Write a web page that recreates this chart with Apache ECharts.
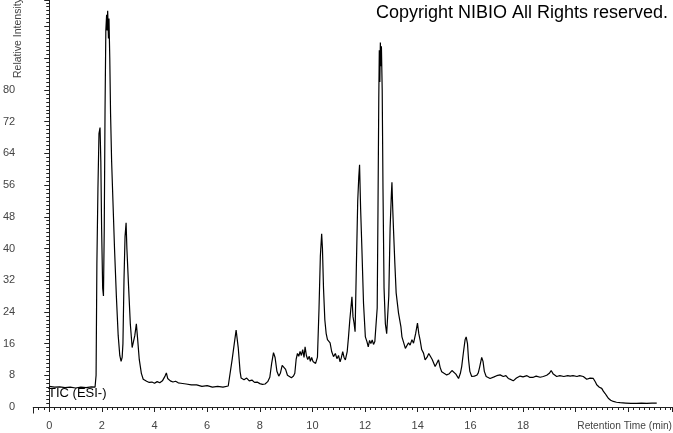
<!DOCTYPE html>
<html>
<head>
<meta charset="utf-8">
<script src="https://cdn.jsdelivr.net/npm/echarts@6/dist/echarts.min.js"></script>
<style>
html,body{margin:0;padding:0;background:#fff;}
#chart{width:673px;height:433px;}
</style>
</head>
<body>
<div id="chart"></div>
<script>
// Retention time (min)
const times = [
0,0.2,0.4,0.6,0.8,1.0,1.2,1.4,1.6,1.74,1.78,1.81,1.85,1.89,1.93,1.96,1.99,2.03,2.06,2.09,
2.12,2.15,2.18,2.20,2.22,2.25,2.27,2.30,2.33,2.37,2.42,2.48,2.55,2.62,2.68,2.73,2.77,2.80,2.84,2.88,
2.92,2.95,3.01,3.08,3.15,3.20,3.25,3.31,3.36,3.42,3.50,3.57,3.7,3.8,3.9,4.0,4.1,4.2,4.3,4.4,
4.45,4.5,4.6,4.7,4.8,4.9,5.0,5.2,5.4,5.6,5.8,6.0,6.2,6.4,6.6,6.8,6.87,6.95,7.03,7.10,
7.18,7.25,7.29,7.4,7.5,7.6,7.7,7.8,7.9,8.0,8.1,8.2,8.3,8.38,8.45,8.52,8.58,8.65,8.72,8.78,
8.85,8.92,8.98,9.05,9.12,9.2,9.28,9.33,9.38,9.43,9.48,9.53,9.58,9.63,9.68,9.72,9.77,9.82,9.88,9.92,
9.97,10.02,10.07,10.12,10.19,10.25,10.30,10.35,10.38,10.42,10.47,10.52,10.57,10.62,10.67,10.73,10.80,10.87,10.93,10.99,
11.05,11.10,11.15,11.20,11.25,11.32,11.37,11.42,11.50,11.54,11.58,11.62,11.67,11.72,11.76,11.79,11.83,11.88,11.94,12.01,
12.07,12.12,12.17,12.22,12.27,12.32,12.37,12.42,12.46,12.49,12.52,12.54,12.56,12.58,12.60,12.62,12.65,12.68,12.72,12.77,
12.82,12.86,12.90,12.95,13.00,13.02,13.05,13.08,13.13,13.18,13.27,13.36,13.40,13.46,13.53,13.59,13.65,13.71,13.78,13.84,
13.92,13.99,14.04,14.09,14.15,14.22,14.28,14.35,14.42,14.47,14.55,14.66,14.72,14.79,14.85,14.91,15.00,15.10,15.20,15.30,
15.36,15.45,15.55,15.62,15.67,15.74,15.80,15.84,15.89,15.93,15.98,16.05,16.15,16.24,16.30,16.35,16.43,16.48,16.53,16.60,
16.75,16.90,17.00,17.13,17.25,17.35,17.44,17.55,17.63,17.75,17.89,18.0,18.15,18.25,18.39,18.5,18.65,18.77,18.9,19.0,
19.07,19.15,19.28,19.4,19.55,19.7,19.79,19.9,20.05,20.15,20.29,20.42,20.55,20.67,20.75,20.80,20.90,20.99,21.05,21.12,
21.18,21.24,21.33,21.43,21.55,21.69,21.9,22.1,22.32,22.5,22.7,22.9,23.08
];
// Relative intensity
const intensity = [
5.2,5.0,5.1,4.9,5.0,4.8,5.0,4.9,5.1,5.0,8,36,55,69,70.5,62,45,30,28,45,
75,95,99,95,100,93,98,88,74,62,52,40,28,18,13,11.5,12.5,16,32,43,
46.5,40,31,21,15,14.5,18,21,17,12,8.5,7,6.5,6.2,6.3,6.0,6.4,6.1,6.6,7.8,
8.6,7.2,6.6,6.3,6.5,6.1,6.0,5.8,5.6,5.6,5.2,5.4,5.0,5.2,5.0,5.3,5.1,12,16,19.4,
15,9,7.3,6.9,7.3,6.6,6.8,6.2,6.3,5.9,5.7,5.8,6.4,7.5,11,13.7,12.5,9,7.8,8.5,
10.5,11,9.5,8,7.6,7.4,7.8,8.5,12,13.5,12.8,14,13,14.5,12.5,15.2,13,12,12.8,11.5,
12.5,11.5,12,11,12.6,25,38,43.7,40,30,22,18.6,17,17.5,16.2,14,12.7,13.5,12.2,13,
11.4,12.5,14,12.5,11.9,14,17.7,22,27.8,22.8,21.2,19,36,52,58,61.1,50,39.6,26.2,17.7,
16.5,15.2,16.8,16,16.9,15.8,16.5,16.2,25,50,78,90,82,92,86,91,80,55,30,21,
18.5,18.2,28,45,54,56.7,50,44.7,36.3,28.8,23.7,20.3,17.7,17.4,14.8,14.4,16.2,15.6,17,16.1,
18.5,21.2,18.5,16.9,14.5,13.6,11.9,12.5,13.5,14,12,10.2,11,11.9,10,8.9,8.5,8.1,8.4,9.2,
9.5,8.3,7.2,8.5,10.2,14,17,17.7,16,12,9,7.7,7.8,8,8.6,10,12.5,11.5,9,7.7,
7.2,7.6,7.9,8.1,7.7,7.9,7.2,6.9,6.6,7.3,7.8,7.6,7.9,7.5,7.5,7.8,7.5,7.7,8.0,8.5,
9.2,8.3,7.7,7.9,7.7,7.9,7.8,7.9,7.7,7.9,7.7,7.0,7.3,7.2,6.3,5.6,5.0,4.7,4.0,3.4,
2.8,2.2,1.7,1.4,1.2,1.1,1.0,0.9,0.9,1.0,0.9,1.0,1.0
];
const xTickLabels = [0,2,4,6,8,10,12,14,16,18];
const yTickLabels = [0,8,16,24,32,40,48,56,64,72,80];

const seriesData = times.map((t, i) => [t, intensity[i]]);
const FONT = '"Liberation Sans", Arial, sans-serif';

const chart = echarts.init(document.getElementById('chart'), null, {renderer: 'canvas'});
chart.setOption({
  animation: false,
  backgroundColor: '#ffffff',
  grid: {left: 33, right: 1, top: 0, bottom: 26, containLabel: false},
  xAxis: {
    type: 'value',
    min: -0.608,
    max: 23.66,
    splitNumber: 12,
    offset: 6,
    axisLine: {show: true, lineStyle: {color: '#222', width: 1}},
    axisTick: {show: true, length: 5, lineStyle: {color: '#222'}},
    minorTick: {show: true, splitNumber: 10, length: 3, lineStyle: {color: '#222'}},
    splitLine: {show: false},
    axisLabel: {
      show: true, margin: 7, color: '#444', fontSize: 11, fontFamily: FONT,
      showMinLabel: false, showMaxLabel: false,
      formatter: v => xTickLabels.indexOf(v) >= 0 ? String(v) : ''
    }
  },
  yAxis: {
    type: 'value',
    min: 0,
    max: 102.7,
    interval: 8,
    axisLine: {show: true, lineStyle: {color: '#222', width: 1}},
    axisTick: {show: true, length: 5, lineStyle: {color: '#222'}},
    minorTick: {show: true, splitNumber: 8, length: 3, lineStyle: {color: '#222'}},
    splitLine: {show: false},
    axisLabel: {
      show: true, margin: 18, color: '#444', fontSize: 11, fontFamily: FONT,
      showMaxLabel: false,
      formatter: v => yTickLabels.indexOf(v) >= 0 ? String(v) : ''
    }
  },
  series: [{
    type: 'line',
    data: seriesData,
    showSymbol: false,
    symbol: 'none',
    lineStyle: {color: '#000', width: 1.2},
    z: 3
  }],
  graphic: [
    {type: 'line', shape: {x1: 33.5, y1: 407, x2: 33.5, y2: 413.5}, style: {stroke: '#222', lineWidth: 1}},
    {type: 'text', left: 376, top: 4, style: {text: 'Copyright NIBIO All Rights reserved.', fill: '#000', font: '18px ' + FONT}},
    {type: 'text', x: 48, y: 393, style: {text: 'TIC (ESI-)', fill: '#000', font: '13px ' + FONT, verticalAlign: 'middle', align: 'left'}, z: 10},
    {type: 'text', x: 672, y: 426, style: {text: 'Retention Time (min)', fill: '#444', font: '10.2px ' + FONT, verticalAlign: 'middle', align: 'right'}},
    {type: 'text', x: 18, y: 78, rotation: Math.PI / 2, style: {text: 'Relative Intensity', fill: '#444', font: '10.5px ' + FONT, verticalAlign: 'middle', align: 'left'}}
  ]
});
</script>
</body>
</html>
